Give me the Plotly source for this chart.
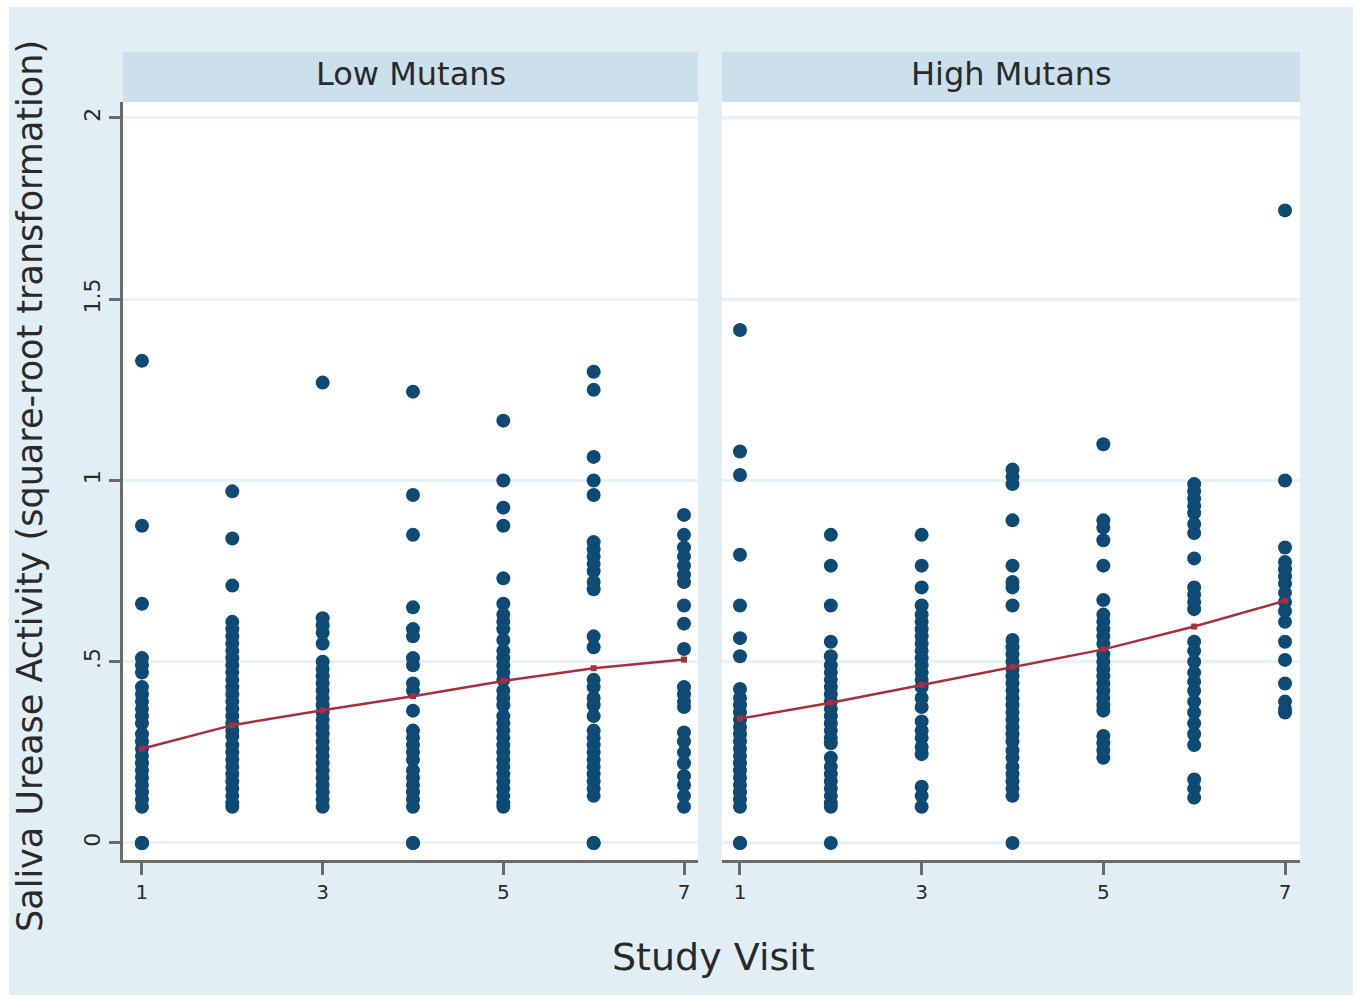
import plotly.graph_objects as go

visits = [1, 2, 3, 4, 5, 6, 7]
panel_titles = ["Low Mutans", "High Mutans"]
y_ticks = [0, 0.5, 1, 1.5, 2]
y_tick_labels = ["0", ".5", "1", "1.5", "2"]
x_ticks = [1, 3, 5, 7]

low_v1 = [1.33, 0.875, 0.66, 0.51, 0.49, 0.47, 0.43, 0.41, 0.39, 0.37, 0.35, 0.33, 0.30, 0.28, 0.26, 0.24, 0.22, 0.20, 0.18, 0.16, 0.14, 0.12, 0.10, 0, 0, 0]
low_v2 = [0.97, 0.84, 0.71, 0.61, 0.59, 0.57, 0.55, 0.53, 0.51, 0.49, 0.47, 0.45, 0.43, 0.41, 0.39, 0.37, 0.35, 0.33, 0.31, 0.295, 0.27, 0.25, 0.23, 0.21, 0.19, 0.17, 0.15, 0.13, 0.11, 0.10]
low_v3 = [1.27, 0.62, 0.60, 0.58, 0.55, 0.50, 0.48, 0.46, 0.44, 0.42, 0.40, 0.38, 0.36, 0.34, 0.32, 0.30, 0.28, 0.26, 0.24, 0.22, 0.20, 0.18, 0.16, 0.14, 0.12, 0.10]
low_v4 = [1.245, 0.96, 0.85, 0.65, 0.59, 0.57, 0.51, 0.49, 0.44, 0.42, 0.365, 0.31, 0.29, 0.27, 0.25, 0.23, 0.20, 0.18, 0.16, 0.14, 0.12, 0.10, 0, 0]
low_v5 = [1.165, 1.0, 0.925, 0.875, 0.73, 0.66, 0.63, 0.61, 0.59, 0.56, 0.53, 0.51, 0.49, 0.47, 0.45, 0.42, 0.40, 0.38, 0.35, 0.33, 0.31, 0.29, 0.27, 0.25, 0.23, 0.21, 0.19, 0.17, 0.15, 0.13, 0.11, 0.10]
low_v6 = [1.30, 1.25, 1.065, 1.0, 0.96, 0.83, 0.81, 0.79, 0.77, 0.75, 0.72, 0.70, 0.57, 0.54, 0.45, 0.43, 0.40, 0.38, 0.35, 0.31, 0.29, 0.27, 0.25, 0.23, 0.21, 0.19, 0.17, 0.15, 0.13, 0, 0]
low_v7 = [0.905, 0.85, 0.815, 0.79, 0.765, 0.74, 0.72, 0.655, 0.605, 0.535, 0.43, 0.41, 0.39, 0.375, 0.305, 0.28, 0.25, 0.22, 0.185, 0.16, 0.13, 0.10]

high_v1 = [1.415, 1.08, 1.015, 0.795, 0.655, 0.565, 0.515, 0.425, 0.40, 0.38, 0.36, 0.34, 0.32, 0.30, 0.28, 0.26, 0.24, 0.22, 0.20, 0.18, 0.16, 0.14, 0.12, 0.10, 0, 0]
high_v2 = [0.85, 0.765, 0.655, 0.555, 0.515, 0.49, 0.47, 0.45, 0.43, 0.41, 0.39, 0.37, 0.35, 0.33, 0.31, 0.29, 0.275, 0.235, 0.21, 0.19, 0.17, 0.15, 0.13, 0.11, 0.10, 0]
high_v3 = [0.85, 0.765, 0.705, 0.655, 0.63, 0.61, 0.59, 0.57, 0.55, 0.53, 0.51, 0.49, 0.47, 0.45, 0.43, 0.40, 0.375, 0.335, 0.31, 0.29, 0.265, 0.245, 0.155, 0.13, 0.10]
high_v4 = [1.03, 1.01, 0.99, 0.89, 0.765, 0.72, 0.705, 0.655, 0.56, 0.54, 0.52, 0.50, 0.48, 0.46, 0.44, 0.42, 0.40, 0.38, 0.36, 0.34, 0.32, 0.30, 0.28, 0.255, 0.235, 0.21, 0.19, 0.17, 0.15, 0.13, 0]
high_v5 = [1.10, 0.89, 0.87, 0.835, 0.765, 0.67, 0.63, 0.61, 0.59, 0.57, 0.55, 0.52, 0.50, 0.48, 0.46, 0.44, 0.42, 0.40, 0.38, 0.365, 0.295, 0.275, 0.255, 0.235]
high_v6 = [0.99, 0.97, 0.95, 0.93, 0.91, 0.88, 0.855, 0.785, 0.705, 0.685, 0.665, 0.645, 0.555, 0.53, 0.50, 0.47, 0.445, 0.42, 0.39, 0.36, 0.33, 0.30, 0.27, 0.175, 0.15, 0.125]
high_v7 = [1.745, 1.0, 0.815, 0.775, 0.755, 0.735, 0.715, 0.69, 0.665, 0.64, 0.61, 0.555, 0.505, 0.44, 0.39, 0.37, 0.36]

low_means = [0.26, 0.325, 0.366, 0.405, 0.447, 0.482, 0.506]
high_means = [0.343, 0.387, 0.436, 0.486, 0.534, 0.597, 0.668]

low_groups = [low_v1, low_v2, low_v3, low_v4, low_v5, low_v6, low_v7]
high_groups = [high_v1, high_v2, high_v3, high_v4, high_v5, high_v6, high_v7]

NAVY = "#0e4a74"
RED = "#a8303c"
BG = "#e1eef3"
HEADER = "#cbe0ea"
GRID = "#e8f1f5"
AXIS = "#6a6a6a"
TXT = "#2a2a2a"

W, H = 1358, 998
L, R, T, B = 123, 58, 102, 138
pw = W - L - R
ph = H - T - B

def px_x(p):
    return (p - L) / pw

def px_y(p):
    return (H - B - p) / ph

fig = go.Figure()

for i, (groups, means) in enumerate([(low_groups, low_means), (high_groups, high_means)]):
    xs, ys = [], []
    for v, vals in zip(visits, groups):
        xs += [v] * len(vals)
        ys += vals
    xa = "x" if i == 0 else "x2"
    fig.add_trace(go.Scatter(x=xs, y=ys, mode="markers", xaxis=xa, yaxis="y",
                             marker=dict(color=NAVY, size=14, line=dict(width=0)),
                             showlegend=False, hoverinfo="skip"))
    fig.add_trace(go.Scatter(x=visits, y=means, mode="lines+markers", xaxis=xa, yaxis="y",
                             line=dict(color=RED, width=2.5),
                             marker=dict(color=RED, size=6, symbol="square"),
                             showlegend=False, hoverinfo="skip"))

d1 = [0, px_x(698)]
d2 = [px_x(722), 1]

axis_common = dict(tickvals=x_ticks, ticktext=[str(t) for t in x_ticks],
                   showgrid=False, zeroline=False, showline=True, linecolor=AXIS, linewidth=3,
                   ticks="outside", ticklen=12, tickwidth=3, tickcolor=AXIS,
                   tickfont=dict(family="DejaVu Sans", size=20, color=TXT))

fig.update_layout(
    width=W, height=H,
    margin=dict(l=L, r=R, t=T, b=B),
    paper_bgcolor=BG,
    plot_bgcolor="white",
    xaxis=dict(domain=d1, range=[0.79, 7.155], anchor="y", **axis_common),
    xaxis2=dict(domain=d2, range=[0.802, 7.165], anchor="y", **axis_common),
    yaxis=dict(domain=[0, 1], range=[-0.047, 2.044], tickvals=y_ticks, ticktext=y_tick_labels,
               showgrid=True, gridcolor=GRID, gridwidth=3, zeroline=False,
               showline=True, linecolor=AXIS, linewidth=3,
               ticks="outside", ticklen=11, tickwidth=3, tickcolor=AXIS, tickangle=-90,
               tickfont=dict(family="DejaVu Sans", size=22, color=TXT)),
    font=dict(family="DejaVu Sans"),
)

# y gridlines for the second panel
for t in y_ticks:
    fig.add_shape(type="line", xref="x2 domain", yref="y", x0=0, x1=1, y0=t, y1=t,
                  line=dict(color=GRID, width=3), layer="below")

# white outer border strips
for (x0, x1, y0, y1) in [(0, 9, 0, 998), (1353, 1358, 0, 998), (0, 1358, 0, 7), (0, 1358, 995, 998)]:
    fig.add_shape(type="rect", xref="paper", yref="paper",
                  x0=px_x(x0), x1=px_x(x1), y0=px_y(y1), y1=px_y(y0),
                  fillcolor="white", line=dict(width=0), layer="below")

# panel headers
for dom, title in zip([d1, d2], panel_titles):
    fig.add_shape(type="rect", xref="paper", yref="paper",
                  x0=dom[0], x1=dom[1], y0=px_y(102), y1=px_y(52),
                  fillcolor=HEADER, line=dict(width=0), layer="below")
    fig.add_annotation(xref="paper", yref="paper", x=(dom[0] + dom[1]) / 2, y=px_y(74),
                       text=title, showarrow=False, xanchor="center", yanchor="middle",
                       font=dict(family="DejaVu Sans", size=32, color=TXT))

fig.add_annotation(xref="paper", yref="paper", x=px_x(713), y=px_y(957),
                   text="Study Visit", showarrow=False, xanchor="center", yanchor="middle",
                   font=dict(family="DejaVu Sans", size=38, color=TXT))
fig.add_annotation(xref="paper", yref="paper", x=px_x(30), y=px_y(486),
                   text="Saliva Urease Activity (square-root transformation)", showarrow=False,
                   textangle=-90, xanchor="center", yanchor="middle",
                   font=dict(family="DejaVu Sans", size=35, color=TXT))

fig.write_html("out.html")
